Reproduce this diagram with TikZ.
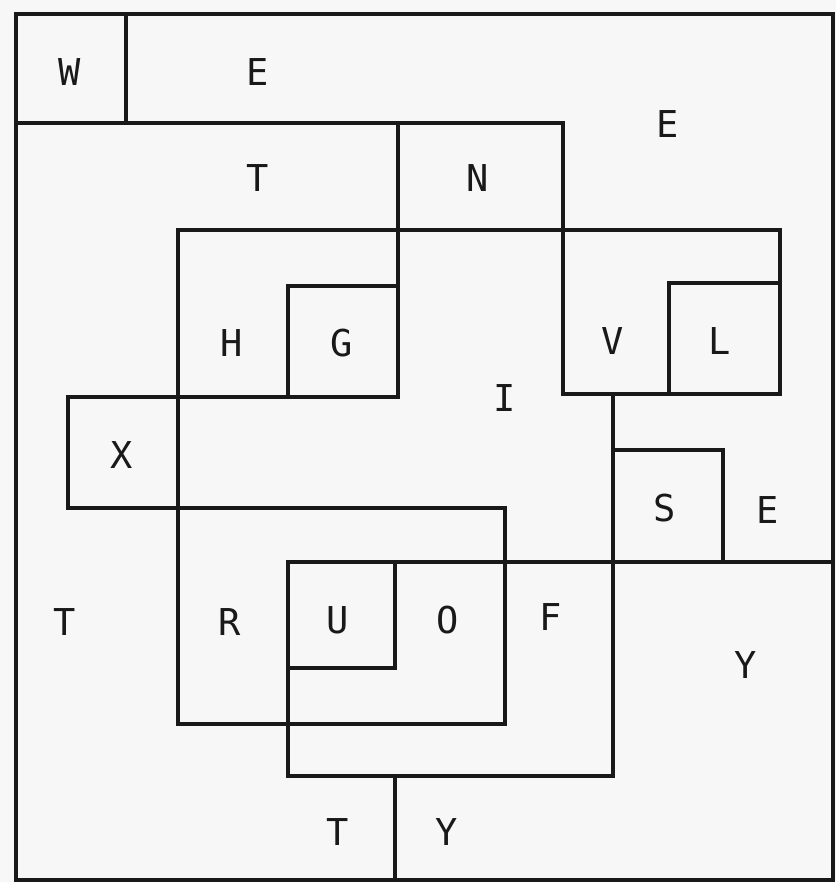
\documentclass[tikz,border=0pt]{standalone}
\usepackage{fontspec}
\newfontfamily\plotfont{DejaVu Sans Mono}
\begin{document}
\begin{tikzpicture}[x=1pt,y=-1pt,
  wall/.style={line width=3.5pt,draw=black!90,line join=miter,line cap=rect},
  lbl/.style={font=\plotfont\fontsize{37}{40}\selectfont,text=black!90,inner sep=0pt}]
\fill[white!97!black] (0,0) rectangle (836,882);
\useasboundingbox (0,0) rectangle (836,882);
% outer frame
\draw[wall] (16,14) rectangle (833,880);
% top band
\draw[wall] (126,14) -- (126,123);
\draw[wall] (16,123) -- (563,123);
\draw[wall] (398,123) -- (398,397);
% main loop
\draw[wall] (563,123) -- (563,394) -- (780,394) -- (780,230) -- (178,230) -- (178,724)
  -- (505,724) -- (505,508) -- (68,508) -- (68,397) -- (398,397);
% G box
\draw[wall] (288,397) -- (288,286) -- (398,286);
% L box
\draw[wall] (669,394) -- (669,283) -- (780,283);
% F / Y loop
\draw[wall] (613,394) -- (613,776) -- (288,776) -- (288,562) -- (833,562);
% S box
\draw[wall] (613,450) -- (723,450) -- (723,562);
% U box
\draw[wall] (395,562) -- (395,668) -- (288,668);
% bottom divider
\draw[wall] (395,776) -- (395,880);
% labels
\node[lbl] (w)  at (70,72)   {W};
\node[lbl] (e1) at (258,72)  {E};
\node[lbl] (e2) at (668,124) {E};
\node[lbl] (t1) at (258,178) {T};
\node[lbl] (n)  at (478,178) {N};
\node[lbl] (h)  at (232,343) {H};
\node[lbl] (g)  at (342,343) {G};
\node[lbl] (v)  at (613,341) {V};
\node[lbl] (l)  at (720,341) {L};
\node[lbl] (i)  at (505,398) {I};
\node[lbl] (x)  at (122,455) {X};
\node[lbl] (s)  at (665,508) {S};
\node[lbl] (e3) at (768,510) {E};
\node[lbl] (t2) at (65,622)  {T};
\node[lbl] (r)  at (230,622) {R};
\node[lbl] (u)  at (338,620) {U};
\node[lbl] (o)  at (448,620) {O};
\node[lbl] (f)  at (551,617) {F};
\node[lbl] (y1) at (746,665) {Y};
\node[lbl] (t3) at (338,832) {T};
\node[lbl] (y2) at (447,832) {Y};
\end{tikzpicture}
\end{document}
